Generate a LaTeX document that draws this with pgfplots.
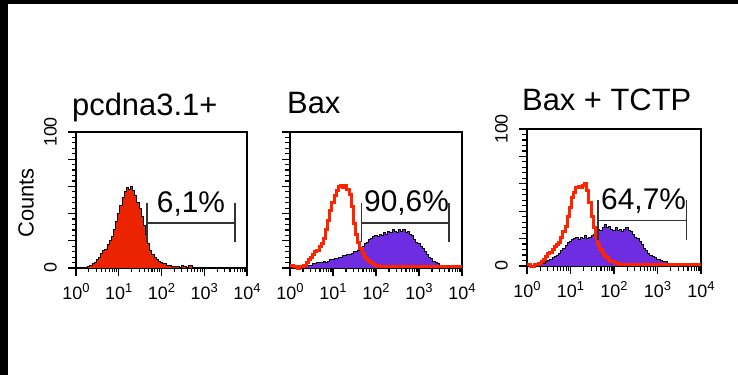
\documentclass[border=0pt]{standalone}
\usepackage{fontspec}
\setmainfont{Liberation Sans}
\usepackage{pgfplots}
\usepackage{pgfplotstable}
\pgfplotsset{compat=1.18}
\definecolor{fillred}{RGB}{235,35,0}
\definecolor{linered}{RGB}{255,35,0}
\definecolor{bxpurple}{RGB}{110,45,225}
\newcommand\dec[1]{10\raisebox{0.40em}{\fontsize{13}{13}\selectfont #1}}

% x values are log10 of the fluorescence channel
% pcdna3.1+ (filled red)
\pgfplotstableread{
lx y
0.00 0
0.20 0
0.25 0.5
0.30 1
0.35 2
0.40 3
0.45 4
0.50 6
0.55 8
0.60 11
0.65 13
0.70 14
0.75 17
0.80 20
0.85 23
0.90 28
0.95 34
1.00 40
1.05 46
1.10 52
1.15 56
1.20 59
1.25 58
1.30 60
1.35 57
1.40 53
1.45 48
1.50 44
1.55 38
1.60 31
1.65 25
1.70 18
1.75 13
1.80 10
1.85 8
1.90 6
1.95 5
2.00 4
2.05 3
2.10 3
2.15 2
2.20 2
2.25 1
2.30 1
2.35 1
2.40 1
2.45 0
2.50 2
2.55 1
2.60 0
2.65 2
2.70 2
2.75 0
4.00 0
}\pcred

% Bax panel, red outline
\pgfplotstableread{
lx y
0.00 2
0.05 2
0.10 1
0.15 1
0.20 0
0.25 1
0.30 1
0.35 2
0.40 4
0.45 6
0.50 8
0.55 10
0.60 12
0.65 13
0.70 16
0.75 18
0.80 22
0.85 28
0.90 35
0.95 42
1.00 48
1.05 53
1.10 57
1.15 60
1.20 61
1.25 59
1.30 61
1.35 58
1.40 54
1.45 45
1.50 33
1.55 25
1.60 19
1.65 14
1.70 11
1.75 8
1.80 6
1.85 5
1.90 4
1.95 3
2.00 2
2.05 2
2.10 1
2.50 1
3.00 1
3.50 1
4.00 1
}\baxred

% Bax panel, purple fill
\pgfplotstableread{
lx y
0.25 0
0.30 1
0.35 1
0.40 2
0.45 2
0.50 2
0.55 3
0.60 3
0.65 4
0.70 4
0.75 4
0.80 5
0.85 4
0.90 5
0.95 6
1.00 6
1.05 7
1.10 7
1.15 8
1.20 8
1.25 9
1.30 9
1.35 10
1.40 10
1.45 11
1.50 12
1.55 12
1.60 13
1.65 14
1.70 16
1.75 18
1.80 19
1.85 21
1.90 22
1.95 23
2.00 24
2.05 23
2.10 25
2.15 24
2.20 26
2.25 25
2.30 27
2.35 26
2.40 28
2.45 27
2.50 26
2.55 28
2.60 27
2.65 28
2.70 26
2.75 27
2.80 25
2.85 24
2.90 21
2.95 19
3.00 18
3.05 16
3.10 14
3.15 12
3.20 10
3.25 8
3.30 7
3.35 5
3.40 4
3.45 3
3.50 2
3.55 2
3.60 1
3.65 1
3.70 1
3.75 0
}\baxpur

% Bax + TCTP panel, red outline
\pgfplotstableread{
lx y
0.00 1
0.05 1
0.10 0
0.15 0
0.20 1
0.25 1
0.30 2
0.35 3
0.40 5
0.45 7
0.50 9
0.55 10
0.60 12
0.65 14
0.70 16
0.75 17
0.80 21
0.85 25
0.90 29
0.95 36
1.00 43
1.05 50
1.10 54
1.15 57
1.20 58
1.25 57
1.30 59
1.35 60
1.40 55
1.45 46
1.50 36
1.55 28
1.60 21
1.65 16
1.70 12
1.75 9
1.80 7
1.85 6
1.90 4
1.95 3
2.00 3
2.05 2
2.10 2
2.15 1
2.50 1
3.00 1
3.50 1
4.00 1
}\tctpred

% Bax + TCTP panel, purple fill
\pgfplotstableread{
lx y
0.20 0
0.25 1
0.30 1
0.35 2
0.40 2
0.45 3
0.50 4
0.55 5
0.60 6
0.65 7
0.70 8
0.75 9
0.80 11
0.85 13
0.90 15
0.95 17
1.00 18
1.05 19
1.10 20
1.15 21
1.20 19
1.25 21
1.30 20
1.35 22
1.40 20
1.45 21
1.50 22
1.55 23
1.60 25
1.65 27
1.70 26
1.75 28
1.80 30
1.85 28
1.90 29
1.95 27
2.00 26
2.05 28
2.10 26
2.15 27
2.20 25
2.25 27
2.30 28
2.35 26
2.40 25
2.45 23
2.50 21
2.55 20
2.60 18
2.65 16
2.70 13
2.75 11
2.80 9
2.85 8
2.90 7
2.95 6
3.00 5
3.05 5
3.10 4
3.15 3
3.20 3
3.25 2
3.30 2
3.40 1
3.50 1
3.60 0
}\tctppur

% tick marks (drawn as combs outside the frame)
\pgfplotstableread{
x y
0 -5.9
1 -5.9
2 -5.9
3 -5.9
4 -5.9
}\xtmaj
\pgfplotstableread{
x y
0.301 -3.3
0.477 -3.3
0.602 -3.3
0.699 -3.3
0.778 -3.3
0.845 -3.3
0.903 -3.3
0.954 -3.3
1.301 -3.3
1.477 -3.3
1.602 -3.3
1.699 -3.3
1.778 -3.3
1.845 -3.3
1.903 -3.3
1.954 -3.3
2.301 -3.3
2.477 -3.3
2.602 -3.3
2.699 -3.3
2.778 -3.3
2.845 -3.3
2.903 -3.3
2.954 -3.3
3.301 -3.3
3.477 -3.3
3.602 -3.3
3.699 -3.3
3.778 -3.3
3.845 -3.3
3.903 -3.3
3.954 -3.3
}\xtmin
\pgfplotstableread{
x y
-0.186 0
-0.186 20
-0.186 40
-0.186 60
-0.186 80
-0.186 100
}\ytmaj
\pgfplotstableread{
x y
-0.105 4
-0.105 8
-0.105 12
-0.105 16
-0.105 24
-0.105 28
-0.105 32
-0.105 36
-0.105 44
-0.105 48
-0.105 52
-0.105 56
-0.105 64
-0.105 68
-0.105 72
-0.105 76
-0.105 84
-0.105 88
-0.105 92
-0.105 96
}\ytmin

\pgfplotsset{
  facs/.style={
    scale only axis, clip=false,
    xmin=0, xmax=4, ymin=0, ymax=100,
    axis line style={line width=1.4bp},
    tick align=outside, tick pos=left,
    major tick length=0pt, minor tick length=0pt,
    xtick={0,1,2,3,4},
    xticklabels={\dec{0},\dec{1},\dec{2},\dec{3},\dec{4}},
    ytick={0,100},
    yticklabels={0,100},
    tick label style={font=\fontsize{18}{18}\selectfont},
    yticklabel shift=19bp,
    yticklabel style={rotate=90, anchor=south, inner sep=0pt},
    xticklabel style={anchor=north, inner sep=0pt, yshift=-15bp},
  },
  tk/.style={black, line width=1.2bp, forget plot},
}
\newcommand\tickmarks{%
  \addplot[tk, ycomb] table[x=x,y=y] {\xtmaj};
  \addplot[tk, ycomb] table[x=x,y=y] {\xtmin};
  \addplot[tk, xcomb] table[x=x,y=y] {\ytmaj};
  \addplot[tk, xcomb] table[x=x,y=y] {\ytmin};
}

\begin{document}
\begin{tikzpicture}
\path[use as bounding box] (0,0) rectangle (738bp,-375bp);
\fill[black] (0,0) rectangle (738bp,-4bp);
\fill[black] (0,0) rectangle (7.5bp,-375bp);

\begin{axis}[facs, at={(76bp,-268bp)}, anchor=south west, width=171bp, height=136bp]
\addplot[fill=fillred, draw=black, line width=0.9bp, const plot mark mid]
  table[x=lx, y=y] {\pcred} \closedcycle;
\tickmarks
\addplot[black!80, line width=1.3bp] coordinates {(1.66,19) (1.66,48)};
\addplot[black!80, line width=1.3bp] coordinates {(1.66,33) (3.72,33)};
\addplot[black!80, line width=1.3bp] coordinates {(3.72,19) (3.72,48)};
\node[anchor=base, inner sep=0pt, font=\fontsize{30}{30}\selectfont] at (axis cs:2.69,40.5) {6,1\%};
\end{axis}

\begin{axis}[facs, at={(290bp,-268bp)}, anchor=south west, width=172bp, height=136bp, yticklabels={}]
\addplot[fill=bxpurple, draw=black, line width=1bp, const plot mark mid]
  table[x=lx, y=y] {\baxpur} \closedcycle;
\tickmarks
\addplot[draw=linered, line width=3bp, const plot mark mid]
  table[x=lx, y=y] {\baxred};
\addplot[black!80, line width=1.3bp] coordinates {(1.67,19) (1.67,48)};
\addplot[black!80, line width=1.3bp] coordinates {(1.67,33) (3.70,33)};
\addplot[black!80, line width=1.3bp] coordinates {(3.70,19) (3.70,48)};
\node[anchor=base, inner sep=0pt, font=\fontsize{30}{30}\selectfont] at (axis cs:2.71,41.4) {90,6\%};
\end{axis}

\begin{axis}[facs, at={(527bp,-266bp)}, anchor=south west, width=174bp, height=137bp]
\addplot[fill=bxpurple, draw=black, line width=1bp, const plot mark mid]
  table[x=lx, y=y] {\tctppur} \closedcycle;
\tickmarks
\addplot[draw=linered, line width=3bp, const plot mark mid]
  table[x=lx, y=y] {\tctpred};
\addplot[black!80, line width=1.3bp] coordinates {(1.63,19) (1.63,48)};
\addplot[black!80, line width=1.3bp] coordinates {(1.63,33) (3.67,33)};
\addplot[black!80, line width=1.3bp] coordinates {(3.67,19) (3.67,48)};
\node[anchor=base, inner sep=0pt, font=\fontsize{30}{30}\selectfont] at (axis cs:2.68,41.6) {64,7\%};
\end{axis}

\node[anchor=base west, inner sep=0pt, font=\fontsize{31}{31}\selectfont] at (72bp,-115bp) {pcdna3.1+};
\node[anchor=base west, inner sep=0pt, font=\fontsize{31}{31}\selectfont] at (287bp,-113bp) {Bax};
\node[anchor=base west, inner sep=0pt, font=\fontsize{31}{31}\selectfont] at (522bp,-110bp) {Bax + TCTP};
\node[rotate=90, inner sep=0pt, font=\fontsize{22}{22}\selectfont] at (26bp,-203bp) {Counts};
\end{tikzpicture}
\end{document}
